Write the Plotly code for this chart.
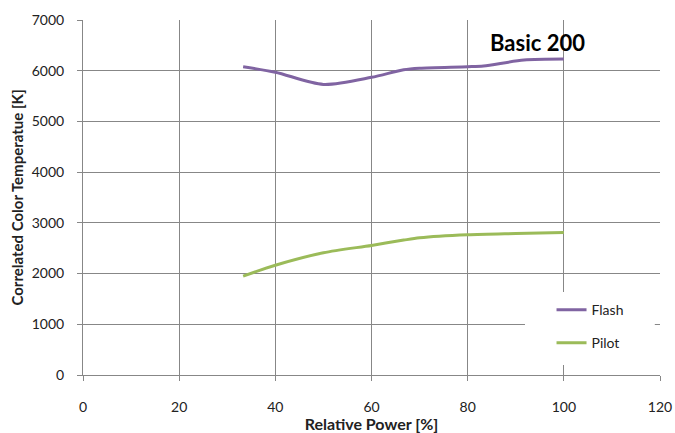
import plotly.graph_objects as go

flash_x = [33.3, 40, 50, 60, 66.7, 70, 80, 83.3, 91.7, 100]
flash_y = [6080, 5970, 5730, 5870, 6020, 6050, 6080, 6095, 6210, 6230]
pilot_x = [33.3, 40, 50, 60, 66.7, 70, 80, 90, 100]
pilot_y = [1950, 2165, 2410, 2555, 2660, 2705, 2765, 2790, 2810]

x_ticks = [0, 20, 40, 60, 80, 100, 120]
y_ticks = [0, 1000, 2000, 3000, 4000, 5000, 6000, 7000]

font = "Lato, 'Open Sans', sans-serif"
grid = "#878787"

fig = go.Figure()
fig.add_trace(go.Scatter(x=flash_x, y=flash_y, mode="lines", name="Flash", legendgroup="a",
                         line=dict(color="#8064A2", width=3, shape="spline", smoothing=0.8)))
fig.add_trace(go.Scatter(x=pilot_x, y=pilot_y, mode="lines", name="Pilot", legendgroup="b",
                         line=dict(color="#9BBB59", width=3, shape="spline", smoothing=0.8)))

fig.update_layout(
    width=675, height=433,
    margin=dict(l=83, r=15, t=20, b=58),
    paper_bgcolor="white", plot_bgcolor="white",
    font=dict(family=font, size=14, color="#222"),
    showlegend=True,
    legend=dict(x=0.812, y=0.228, xanchor="left", yanchor="top",
                bgcolor="rgba(0,0,0,0)", font=dict(size=14, color="#222"),
                tracegroupgap=12, itemwidth=30),
    shapes=[dict(type="rect", xref="paper", yref="paper", x0=0.766, x1=0.991, y0=0.028, y1=0.234,
                 fillcolor="white", line=dict(width=0), layer="above")],
    annotations=[dict(text="<b>Basic 200</b>", x=0.787, y=0.938, xref="paper", yref="paper",
                      showarrow=False, font=dict(size=22, color="black", family=font),
                      xanchor="center", yanchor="middle")],
)
fig.update_xaxes(range=[0, 120], tickvals=x_ticks, showgrid=True, gridcolor=grid, gridwidth=1,
                 showline=True, linecolor=grid, linewidth=1, ticks="outside", ticklen=5,
                 tickcolor=grid, ticklabelstandoff=14, zeroline=False, automargin=False,
                 title=dict(text="<b>Relative Power [%]</b>", font=dict(size=16), standoff=1))
fig.update_yaxes(range=[0, 7000], tickvals=y_ticks, showgrid=True, gridcolor=grid, gridwidth=1,
                 showline=True, linecolor=grid, linewidth=1, ticks="outside", ticklen=5,
                 tickcolor=grid, ticklabelstandoff=10, zeroline=False, automargin=False,
                 title=dict(text="<b>Correlated Color Temperatue [K]</b>", font=dict(size=15), standoff=4))

fig.write_html("out.html", config={"displayModeBar": False},
               post_script="document.body.style.margin='0';document.body.style.overflow='hidden';")
